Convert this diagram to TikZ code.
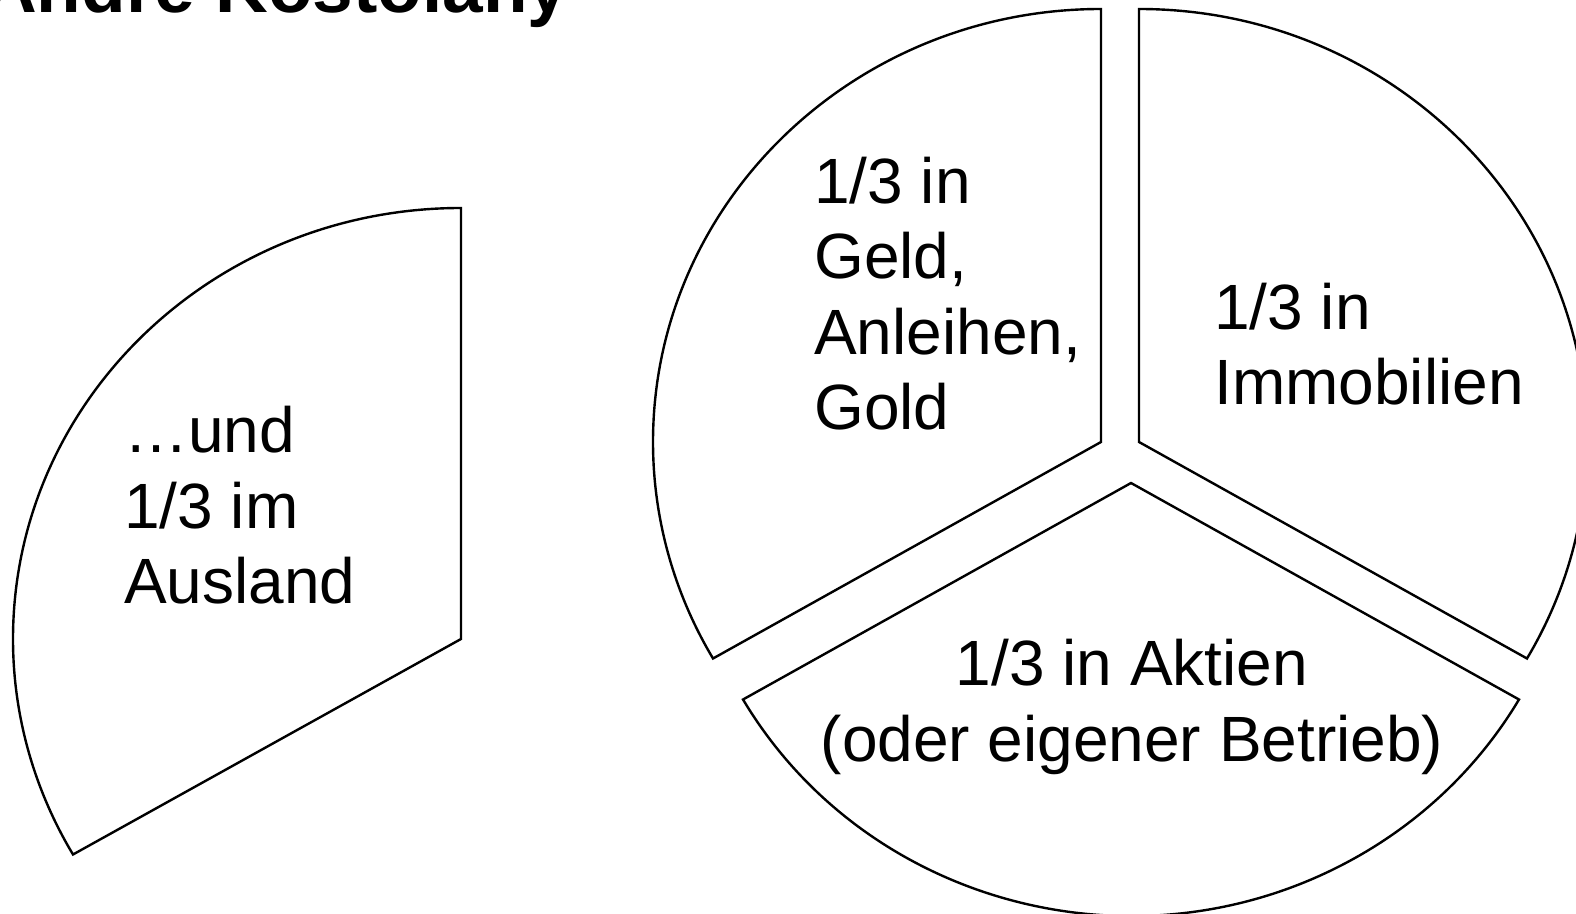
\documentclass[tikz,border=0pt]{standalone}
\usepackage{fontspec}
\setmainfont{Liberation Sans}
\begin{document}
\begin{tikzpicture}[x=1pt,y=1pt,
  slice/.style={draw=black,line width=2.4pt,fill=white,line join=miter},
  lbl/.style={inner sep=0pt,font=\fontsize{64}{75.5}\selectfont},
  ttl/.style={inner sep=0pt,font=\fontsize{73}{80}\selectfont\bfseries}]
\useasboundingbox (0,0) rectangle (1576,913);
\clip (0,0) rectangle (1576,913);
\fill[white] (0,0) rectangle (1576,913);
% title
\node[ttl,anchor=base west] (title) at (-16,900) {André Kostolany};
% pie slices
\coordinate (cg) at (1101,471);
\coordinate (ci) at (1139,471);
\coordinate (ca) at (1131,430);
\coordinate (cu) at (461,274);
\draw[slice] (cg) -- ++(0,433) arc[start angle=90,end angle=210,x radius=448,y radius=433] -- cycle;
\draw[slice] (ci) -- ++(0,433) arc[start angle=90,end angle=-30,x radius=448,y radius=433] -- cycle;
\draw[slice] (ca) -- ++(210:448 and 433) arc[start angle=210,end angle=330,x radius=448,y radius=433] -- cycle;
\draw[slice] (cu) -- ++(0,431) arc[start angle=90,end angle=210,x radius=448,y radius=431] -- cycle;
% labels (base anchor = last line's baseline)
\node[lbl,anchor=base west,align=left] (geld) at (814,483) {1/3 in\\Geld,\\Anleihen,\\Gold};
\node[lbl,anchor=base west,align=left] (immo) at (1214,508) {1/3 in\\Immobilien};
\node[lbl,anchor=base west,align=left] (ausl) at (124,309) {…und\\1/3 im\\Ausland};
\node[lbl,anchor=base,align=center] (akt) at (1132,152) {1/3 in Aktien\\(oder eigener Betrieb)};
\end{tikzpicture}
\end{document}
